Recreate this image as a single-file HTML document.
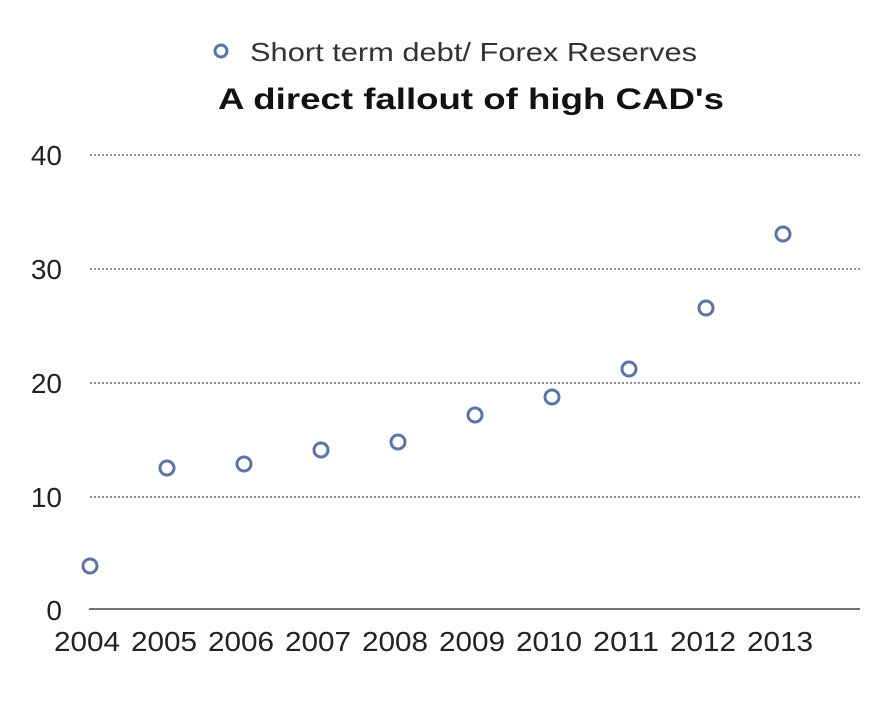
<!DOCTYPE html>
<html><head><style>html,body{margin:0;padding:0;background:#fff;}</style></head>
<body>
<svg width="886" height="703" xmlns="http://www.w3.org/2000/svg" font-family="Liberation Sans, sans-serif">
<rect width="886" height="703" fill="#fff"/>
<circle cx="221" cy="51" r="6" fill="none" stroke="#5b74a4" stroke-width="3"/>
<text x="250" y="61" font-size="26" fill="#333" textLength="447" lengthAdjust="spacingAndGlyphs">Short term debt/ Forex Reserves</text>
<text x="218" y="109" font-size="30" font-weight="bold" fill="#111" textLength="506" lengthAdjust="spacingAndGlyphs">A direct fallout of high CAD's</text>
<g stroke="#555" stroke-width="1.3" stroke-dasharray="2,2">
<line x1="90" y1="155" x2="860" y2="155"/>
<line x1="90" y1="269" x2="860" y2="269"/>
<line x1="90" y1="383" x2="860" y2="383"/>
<line x1="90" y1="497" x2="860" y2="497"/>
</g>
<line x1="89" y1="609" x2="860" y2="609" stroke="#444" stroke-width="1.5"/>
<g font-size="28" fill="#222" text-anchor="end">
<text x="62" y="165">40</text>
<text x="62" y="279">30</text>
<text x="62" y="393">20</text>
<text x="62" y="507">10</text>
<text x="62" y="620">0</text>
</g>
<g font-size="28" fill="#222">
<text x="54" y="651" textLength="66" lengthAdjust="spacingAndGlyphs">2004</text>
<text x="131" y="651" textLength="66" lengthAdjust="spacingAndGlyphs">2005</text>
<text x="208" y="651" textLength="66" lengthAdjust="spacingAndGlyphs">2006</text>
<text x="285" y="651" textLength="66" lengthAdjust="spacingAndGlyphs">2007</text>
<text x="362" y="651" textLength="66" lengthAdjust="spacingAndGlyphs">2008</text>
<text x="439" y="651" textLength="66" lengthAdjust="spacingAndGlyphs">2009</text>
<text x="516" y="651" textLength="66" lengthAdjust="spacingAndGlyphs">2010</text>
<text x="593" y="651" textLength="66" lengthAdjust="spacingAndGlyphs">2011</text>
<text x="670" y="651" textLength="66" lengthAdjust="spacingAndGlyphs">2012</text>
<text x="747" y="651" textLength="66" lengthAdjust="spacingAndGlyphs">2013</text>
</g>
<g fill="none" stroke="#5b74a4" stroke-width="3">
<circle cx="90" cy="566" r="7"/>
<circle cx="167" cy="468" r="7"/>
<circle cx="244" cy="464" r="7"/>
<circle cx="321" cy="450" r="7"/>
<circle cx="398" cy="442" r="7"/>
<circle cx="475" cy="415" r="7"/>
<circle cx="552" cy="397" r="7"/>
<circle cx="629" cy="369" r="7"/>
<circle cx="706" cy="308" r="7"/>
<circle cx="783" cy="234" r="7"/>
</g>
</svg>
</body></html>
